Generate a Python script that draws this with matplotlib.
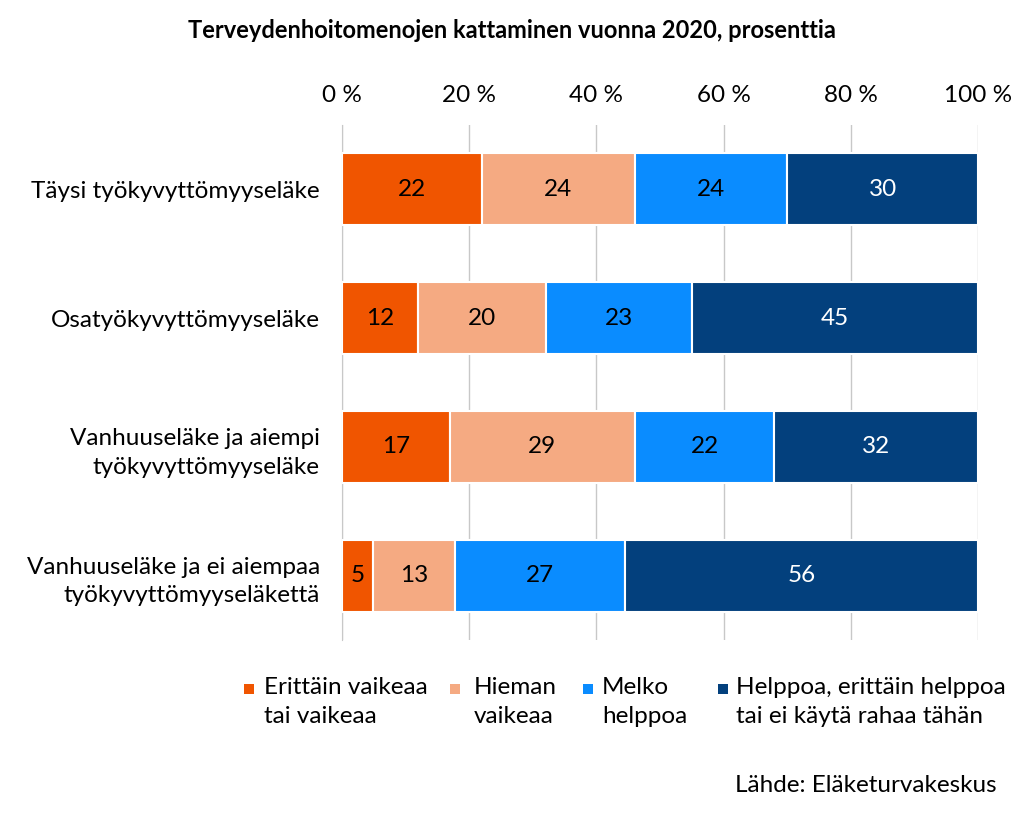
import matplotlib
matplotlib.use("Agg")
import matplotlib.pyplot as plt
from matplotlib.patches import Rectangle
import numpy as np

categories = ["Täysi työkyvyttömyyseläke", "Osatyökyvyttömyyseläke",
              "Vanhuuseläke ja aiempi\ntyökyvyttömyyseläke",
              "Vanhuuseläke ja ei aiempaa\ntyökyvyttömyyseläkettä"]
series_names = ["Erittäin vaikeaa\ntai vaikeaa", "Hieman\nvaikeaa", "Melko\nhelppoa",
                "Helppoa, erittäin helppoa\ntai ei käytä rahaa tähän"]
erittain_vaikeaa = [22, 12, 17, 5]
hieman_vaikeaa = [24, 20, 29, 13]
melko_helppoa = [24, 23, 22, 27]
helppoa = [30, 45, 32, 56]
colors = ["#F05500", "#F5AA82", "#0A8CFF", "#03407D"]
text_colors = ["black", "black", "black", "white"]
xticks = [0, 20, 40, 60, 80, 100]
xticklabels = ["0 %", "20 %", "40 %", "60 %", "80 %", "100 %"]

plt.rcParams['font.family'] = ['Lato', 'DejaVu Sans']
FS = 17.5

data = np.array([erittain_vaikeaa, hieman_vaikeaa, melko_helppoa, helppoa], dtype=float)
shares = data / data.sum(axis=0) * 100

W, H = 1024, 816
fig = plt.figure(figsize=(W/100, H/100), dpi=100)
ax = fig.add_axes([342/W, 1-640/H, (978-342)/W, 515/H])

y = np.arange(len(categories))
left = np.zeros(len(categories))
for i in range(4):
    ax.barh(y, shares[i], left=left, height=0.56, color=colors[i],
            edgecolor="white", linewidth=1.5, zorder=3)
    for j in range(len(categories)):
        ax.text(left[j] + shares[i][j]/2, y[j], str(int(data[i][j])),
                ha="center", va="center", fontsize=FS, color=text_colors[i], zorder=4)
    left += shares[i]

ax.set_xlim(0, 100)
ax.set_ylim(3.5, -0.5)
ax.set_xticks(xticks)
ax.set_xticklabels(xticklabels, fontsize=FS)
ax.xaxis.tick_top()
ax.tick_params(axis="x", length=0, pad=14)
ax.set_yticks(y)
ax.set_yticklabels(categories, fontsize=FS, ha="right", linespacing=1.45)
ax.tick_params(axis="y", length=0, pad=16)
ax.grid(axis="x", color="#C8C8C8", linewidth=1, zorder=0)
for s in ["top", "right", "bottom"]:
    ax.spines[s].set_visible(False)
ax.spines["left"].set_color("#C8C8C8")

fig.text(512/W, 1-30/H, "Terveydenhoitomenojen kattaminen vuonna 2020, prosenttia",
         ha="center", va="center", fontsize=17, fontweight="bold")

# legend, drawn manually so that markers sit at the first line
marker_x = [244, 450, 583, 718]
text_x = [264, 474, 602, 736]
for mx, tx, c, name in zip(marker_x, text_x, colors, series_names):
    fig.add_artist(Rectangle((mx/W, 1-694/H), 10/W, 10/H, transform=fig.transFigure,
                             facecolor=c, edgecolor="none"))
    fig.text(tx/W, 1-677/H, name, ha="left", va="top", fontsize=FS, linespacing=1.45)

fig.text(997/W, 1-785/H, "Lähde: Eläketurvakeskus", ha="right", va="center", fontsize=FS)

fig.savefig("out.png", dpi=100)
